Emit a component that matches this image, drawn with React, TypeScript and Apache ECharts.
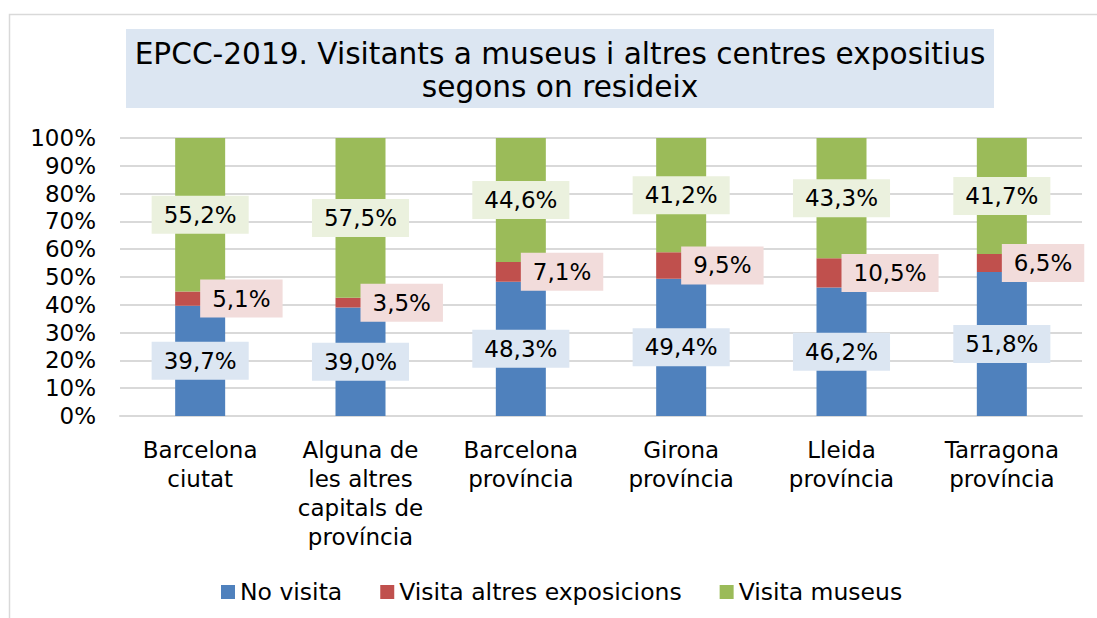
import React, { useEffect, useRef } from "react";
import * as echarts from "echarts";

const categories = [
  "Barcelona\nciutat",
  "Alguna de\nles altres\ncapitals de\nprovíncia",
  "Barcelona\nprovíncia",
  "Girona\nprovíncia",
  "Lleida\nprovíncia",
  "Tarragona\nprovíncia",
];
const noVisita = [39.7, 39.0, 48.3, 49.4, 46.2, 51.8];
const altresExposicions = [5.1, 3.5, 7.1, 9.5, 10.5, 6.5];
const visitaMuseus = [55.2, 57.5, 44.6, 41.2, 43.3, 41.7];
const seriesNames = ["No visita", "Visita altres exposicions", "Visita museus"];
const titleLines = ["EPCC-2019. Visitants a museus i altres centres expositius", "segons on resideix"];

const FONT = "'DejaVu Sans', Verdana, sans-serif";
const fmt = (v: number) => v.toFixed(1).replace(".", ",") + "%";

export default function App() {
  const ref = useRef<HTMLDivElement>(null);
  useEffect(() => {
    if (!ref.current) return;
    const chart = echarts.init(ref.current, null, { renderer: "svg" });
    const labelBase = {
      show: true,
      fontFamily: FONT,
      fontSize: 23,
      lineHeight: 23,
      color: "#000",
      padding: [8, 12, 7, 12],
      formatter: (p: any) => fmt(p.value),
    };
    chart.setOption({
      animation: false,
      textStyle: { fontFamily: FONT },
      graphic: [
        {
          type: "rect",
          shape: { x: 9.5, y: 14.5, width: 1200, height: 800 },
          style: { fill: "none", stroke: "#D9D9D9", lineWidth: 1.5 },
          silent: true,
        },
        {
          type: "rect",
          shape: { x: 126, y: 29, width: 868, height: 79 },
          style: { fill: "#DCE6F2" },
          silent: true,
        },
        {
          type: "text",
          x: 560,
          y: 70,
          style: {
            text: titleLines.join("\n"),
            fontFamily: FONT,
            fontSize: 29.6,
            lineHeight: 33,
            fill: "#000",
            align: "center",
            verticalAlign: "middle",
          },
          silent: true,
        },
      ],
      legend: {
        data: seriesNames,
        left: 216,
        top: 575,
        icon: "rect",
        itemWidth: 14,
        itemHeight: 14,
        itemGap: 38,
        textStyle: { fontFamily: FONT, fontSize: 23.5, color: "#000" },
      },
      grid: { left: 120, right: 15, top: 138, bottom: 202, containLabel: false },
      xAxis: {
        type: "category",
        data: categories,
        axisLine: { lineStyle: { color: "#D9D9D9", width: 2 } },
        axisTick: { show: false },
        axisLabel: {
          fontFamily: FONT,
          fontSize: 23,
          lineHeight: 29,
          color: "#000",
          margin: 19,
          interval: 0,
        },
      },
      yAxis: {
        type: "value",
        min: 0,
        max: 100,
        interval: 10,
        axisLine: { show: false },
        axisTick: { show: false },
        splitLine: { lineStyle: { color: "#D9D9D9", width: 2 } },
        axisLabel: {
          fontFamily: FONT,
          fontSize: 23,
          color: "#000",
          margin: 24,
          formatter: (v: number) => v + "%",
        },
      },
      series: [
        {
          name: seriesNames[0],
          type: "bar",
          stack: "total",
          barWidth: 50,
          data: noVisita,
          itemStyle: { color: "#4F81BD" },
          label: { ...labelBase, position: "inside", backgroundColor: "#DCE6F2" },
        },
        {
          name: seriesNames[1],
          type: "bar",
          stack: "total",
          barWidth: 50,
          data: altresExposicions,
          itemStyle: { color: "#C0504D" },
          label: {
            ...labelBase,
            position: ["50%", "50%"],
            align: "left",
            verticalAlign: "middle",
            backgroundColor: "#F2DCDB",
          },
        },
        {
          name: seriesNames[2],
          type: "bar",
          stack: "total",
          barWidth: 50,
          data: visitaMuseus,
          itemStyle: { color: "#9BBB59" },
          label: { ...labelBase, position: "inside", backgroundColor: "#EBF1DE" },
        },
      ],
    });
    return () => chart.dispose();
  }, []);
  return (
    <div
      ref={ref}
      style={{ position: "fixed", left: 0, top: 0, width: 1097, height: 618, background: "#fff" }}
    />
  );
}
